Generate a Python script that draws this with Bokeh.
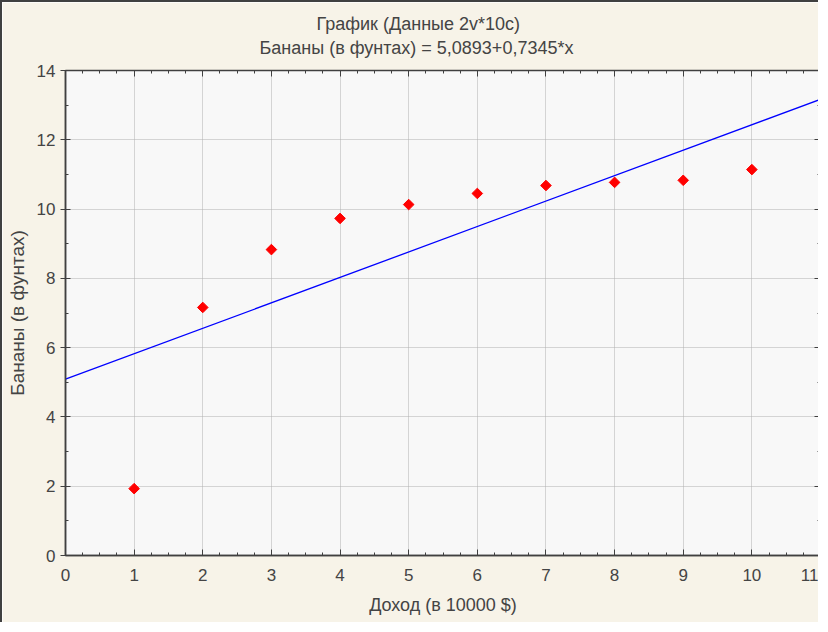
import math
from bokeh.plotting import figure
from bokeh.models import (LinearAxis, Title, Range1d, FixedTicker, ColumnDataSource,
                          CustomJSTickFormatter)
from bokeh.embed import file_html
from bokeh.resources import INLINE

# ---- data ----
income = [1, 2, 3, 4, 5, 6, 7, 8, 9, 10]
bananas = [1.93, 7.16, 8.83, 9.73, 10.13, 10.45, 10.68, 10.77, 10.83, 11.14]
intercept = 5.0893
slope = 0.7345
x_ticks = [0, 1, 2, 3, 4, 5, 6, 7, 8, 9, 10, 11]
y_ticks = [0, 2, 4, 6, 8, 10, 12, 14]
title_line1 = "График  (Данные 2v*10c)"
title_line2 = "Бананы (в фунтах) = 5,0893+0,7345*x"
x_label = "Доход (в 10000 $)"
y_label = "Бананы (в фунтах)"

FONT = "Liberation Sans"
BEIGE = "#F7F3E8"
DARK = "#404040"

p = figure(width=818, height=622, output_backend="svg", toolbar_location=None,
           x_range=Range1d(0, 11), y_range=Range1d(0, 14), title=None,
           min_border_left=63, min_border_right=0, min_border_top=68,
           min_border_bottom=69)
p.styles = {"border-left": "2px solid " + DARK, "border-top": "2px solid " + DARK}

p.background_fill_color = "#F8F8F8"
p.border_fill_color = BEIGE
p.outline_line_color = DARK
p.outline_line_width = 1.5

x_minor = [i / 4 for i in range(45)]
y_minor = list(range(15))

# bottom axis
xa = p.xaxis[0]
xa.ticker = FixedTicker(ticks=x_ticks, minor_ticks=x_minor)
xa.axis_label = x_label
xa.axis_label_text_font = FONT
xa.axis_label_text_font_size = "18px"
xa.axis_label_text_font_style = "normal"
xa.axis_label_standoff = 11
xa.major_label_text_font = FONT
xa.major_label_text_font_size = "17px"
xa.major_label_standoff = 13
xa.major_tick_in = 6
xa.major_tick_out = 0
xa.minor_tick_in = 3
xa.minor_tick_out = 0
xa.axis_line_color = DARK
xa.axis_line_width = 1.5
xa.major_tick_line_color = DARK
xa.minor_tick_line_color = DARK

# left axis
ya = p.yaxis[0]
ya.ticker = FixedTicker(ticks=y_ticks, minor_ticks=y_minor)
ya.axis_label = y_label
ya.axis_label_text_font = FONT
ya.axis_label_text_font_size = "19px"
ya.axis_label_text_font_style = "normal"
ya.axis_label_standoff = 6
ya.major_label_text_font = FONT
ya.major_label_text_font_size = "17px"
ya.major_label_standoff = 5
ya.major_label_orientation = "horizontal"
ya.major_tick_in = 5
ya.major_tick_out = 5
ya.minor_tick_in = 3
ya.minor_tick_out = 0
ya.axis_line_color = DARK
ya.axis_line_width = 1.5
ya.major_tick_line_color = DARK
ya.minor_tick_line_color = DARK

# top and right tick-only axes
blank = CustomJSTickFormatter(code="return ''")
ta = LinearAxis(ticker=FixedTicker(ticks=x_ticks, minor_ticks=x_minor), formatter=blank,
                major_label_standoff=0,
                major_tick_in=6, major_tick_out=0, minor_tick_in=3, minor_tick_out=0,
                axis_line_color=DARK, major_tick_line_color=DARK, minor_tick_line_color=DARK)
p.add_layout(ta, "above")
ra = LinearAxis(ticker=FixedTicker(ticks=y_ticks, minor_ticks=y_minor), formatter=blank,
                major_label_standoff=0,
                major_tick_in=6, major_tick_out=0, minor_tick_in=3, minor_tick_out=0,
                axis_line_color=DARK, major_tick_line_color=DARK, minor_tick_line_color=DARK)
p.add_layout(ra, "right")

# grid
for g in (p.xgrid[0], p.ygrid[0]):
    g.grid_line_color = "#B0B0B0"
    g.grid_line_dash = "1 1"
    g.grid_line_width = 1
p.xgrid[0].ticker = FixedTicker(ticks=x_ticks)
p.ygrid[0].ticker = FixedTicker(ticks=y_ticks)

# titles (second line added first so it sits nearer the plot)
p.add_layout(Title(text=title_line2, align="left", offset=194, text_font=FONT,
                   text_font_size="18px", text_font_style="normal", standoff=5,
                   padding=(0, 0, 0, 10)), "above")
p.add_layout(Title(text=title_line1, align="left", offset=251, text_font=FONT,
                   text_font_size="18px", text_font_style="normal", standoff=0), "above")

# regression line
line_x = [x_ticks[0], x_ticks[-1]]
line_y = [intercept + slope * v for v in line_x]
p.line(line_x, line_y, line_color="#0000FF", line_width=1.3)

# points
src = ColumnDataSource(dict(x=income, y=bananas))
p.scatter("x", "y", source=src, marker="square", angle=math.pi / 4, size=7.5,
          fill_color="#FF0000", line_color="#FF0000")

open("out.html", "w").write(file_html(p, INLINE))
